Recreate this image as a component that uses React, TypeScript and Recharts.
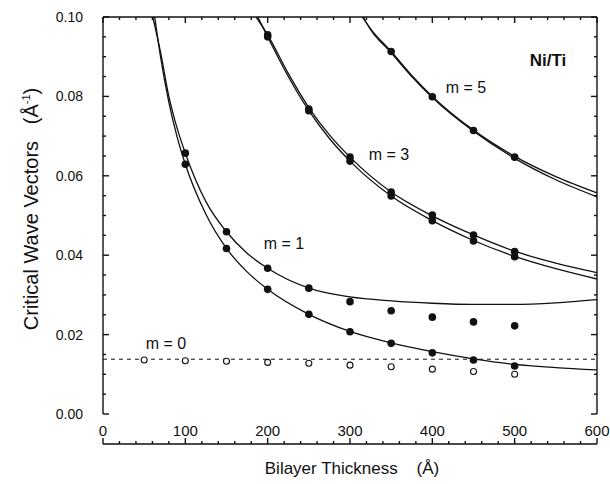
import { ComposedChart, Line, Scatter, XAxis, YAxis, ReferenceLine } from 'recharts';

// bilayer thickness (Å) vs critical wave vector (Å^-1)
const m1UpperCurve = [
    [60.5, 0.1], [70, 0.091], [80, 0.08], [90, 0.072], [100, 0.0657], [125, 0.0535],
    [150, 0.0459], [175, 0.0405], [200, 0.0367], [250, 0.0317], [300, 0.0295],
    [350, 0.0285], [400, 0.0279], [450, 0.0276], [500, 0.0276], [550, 0.028], [600, 0.0288],
];
const m1LowerCurve = [
    [62.8, 0.1], [70, 0.0898], [80, 0.0785], [90, 0.0698], [100, 0.0629], [125, 0.0503],
    [150, 0.0417], [175, 0.0358], [200, 0.0314], [250, 0.0251], [300, 0.0208],
    [350, 0.0179], [400, 0.0157], [450, 0.0139], [500, 0.0125], [550, 0.0117], [600, 0.0111],
];
const m3UpperCurve = [
    [186, 0.1], [200, 0.0955], [225, 0.0858], [250, 0.0772], [275, 0.0703], [300, 0.0647],
    [350, 0.0559], [400, 0.0499], [450, 0.0451], [500, 0.041], [550, 0.038], [600, 0.0356],
];
const m3LowerCurve = [
    [188, 0.1], [200, 0.095], [225, 0.085], [250, 0.0764], [275, 0.0694], [300, 0.0637],
    [350, 0.0549], [400, 0.0487], [450, 0.0437], [500, 0.0397], [550, 0.0366], [600, 0.034],
];
const m5UpperCurve = [
    [315, 0.1], [325, 0.097], [350, 0.0913], [375, 0.0853], [400, 0.08], [450, 0.0715],
    [500, 0.0649], [550, 0.0598], [600, 0.0557],
];
const m5LowerCurve = [
    [316, 0.1], [325, 0.0968], [350, 0.091], [375, 0.085], [400, 0.0797], [450, 0.0712],
    [500, 0.0644], [550, 0.059], [600, 0.0547],
];

const m1Thickness = [100, 150, 200, 250, 300, 350, 400, 450, 500];
const m1UpperMeasured = [0.0657, 0.0459, 0.0367, 0.0317, 0.0283, 0.026, 0.0244, 0.0232, 0.0222];
const m1LowerMeasured = [0.0629, 0.0417, 0.0314, 0.0251, 0.0207, 0.0178, 0.0154, 0.0136, 0.0121];

const m3Thickness = [200, 250, 300, 350, 400, 450, 500];
const m3UpperMeasured = [0.0955, 0.0768, 0.0647, 0.0559, 0.0501, 0.0451, 0.0409];
const m3LowerMeasured = [0.095, 0.0764, 0.0637, 0.0549, 0.0487, 0.0436, 0.0396];

const m5Thickness = [350, 400, 450, 500];
const m5Measured = [0.0913, 0.0799, 0.0714, 0.0647];

const m0Thickness = [50, 100, 150, 200, 250, 300, 350, 400, 450, 500];
const m0Measured = [0.0136, 0.0134, 0.0133, 0.013, 0.0128, 0.0123, 0.0119, 0.0113, 0.0107, 0.01];
const m0Level = 0.0138;

const xTicks = [
    0, 20, 40, 60, 80, 100, 120, 140, 160, 180, 200, 220, 240, 260, 280, 300,
    320, 340, 360, 380, 400, 420, 440, 460, 480, 500, 520, 540, 560, 580, 600,
];
const xLabels = [0, 100, 200, 300, 400, 500, 600];
const yTicks = [
    0, 0.005, 0.01, 0.015, 0.02, 0.025, 0.03, 0.035, 0.04, 0.045, 0.05,
    0.055, 0.06, 0.065, 0.07, 0.075, 0.08, 0.085, 0.09, 0.095, 0.1,
];
const yLabels = [0, 0.02, 0.04, 0.06, 0.08, 0.1];

const FONT = '"Liberation Sans", Arial, Helvetica, sans-serif';
const INK = '#111';

// layout: plot box runs from x=103 to x=597, y=17 to y=414
const W = 610;
const H = 484;
const MARGIN = { top: 16, right: 13, bottom: 39, left: 42 };
const Y_LABEL_W = 60;
const PLOT_W = W - MARGIN.left - Y_LABEL_W - 1 - MARGIN.right;

const curve = (pts: number[][]) => pts.map(([x, y]) => ({ x, y }));
const points = (xs: number[], ys: number[]) => xs.map((x, i) => ({ x, y: ys[i] }));

const isMajorX = (v: number) => v % 100 === 0;
const isMajorY = (v: number) => Math.abs(v / 0.02 - Math.round(v / 0.02)) < 1e-6;
const MAJOR = 6;
const MINOR = 3;

// tick marks point into the plot on all four sides
const UpTick = ({ x, y, payload }: any) => (
    <line x1={x} x2={x} y1={y} y2={y - (isMajorX(payload.value) ? MAJOR : MINOR)} stroke={INK} strokeWidth={1.4} />
);
const DownTick = ({ x, y, payload }: any) => (
    <line x1={x} x2={x} y1={y} y2={y + (isMajorX(payload.value) ? MAJOR : MINOR)} stroke={INK} strokeWidth={1.4} />
);
// the tick axis sits outside the label column, so its marks are shifted onto both frame edges
const SideTicks = ({ x, y, payload }: any) => {
    const len = isMajorY(payload.value) ? MAJOR : MINOR;
    const left = x + Y_LABEL_W;
    return (
        <g>
            <line x1={left} x2={left + len} y1={y} y2={y} stroke={INK} strokeWidth={1.4} />
            <line x1={left + PLOT_W} x2={left + PLOT_W - len} y1={y} y2={y} stroke={INK} strokeWidth={1.4} />
        </g>
    );
};

const XLabel = ({ x, y, payload }: any) => (
    <text x={x} y={y + 22} textAnchor="middle" fontSize={15} fontFamily={FONT} fill={INK}>
        {payload.value}
    </text>
);
const YLabel = ({ x, y, payload }: any) => (
    <text x={x - 20} y={y + 5} textAnchor="end" fontSize={14} fontFamily={FONT} fill={INK}>
        {payload.value.toFixed(2)}
    </text>
);

const FilledDot = (p: any) => <circle cx={p.cx} cy={p.cy} r={3.8} fill={INK} />;
const OpenDot = (p: any) => <circle cx={p.cx} cy={p.cy} r={3} fill="#fff" stroke={INK} strokeWidth={1.1} />;

const labelStyle = (left: number, top: number, extra: any = {}) => ({
    position: 'absolute' as const,
    left,
    top,
    transform: 'translate(-50%, -50%)',
    fontFamily: FONT,
    fontSize: 16,
    color: INK,
    whiteSpace: 'nowrap' as const,
    lineHeight: 1,
    ...extra,
});

const frameLine = { stroke: INK, strokeWidth: 1.4 };
const bare = { tickLine: false, tickSize: 0, tickMargin: 0, interval: 0 as const, allowDataOverflow: true };

const lineProps = {
    dataKey: 'y',
    type: 'monotone' as const,
    stroke: INK,
    strokeWidth: 1.3,
    dot: false,
    activeDot: false,
    isAnimationActive: false,
};

export default function App() {
    return (
        <div style={{ position: 'relative', width: W, height: H }}>
            <style>{'body{margin:0;overflow:hidden}'}</style>
            <ComposedChart width={W} height={H} margin={MARGIN}>
                {/* bottom: tick-mark axis sits on the plot edge, labels below it */}
                <XAxis xAxisId="xticks" dataKey="x" type="number" domain={[0, 600]} ticks={xTicks} tick={<UpTick />} axisLine={frameLine} height={1} {...bare} />
                <XAxis dataKey="x" type="number" domain={[0, 600]} ticks={xLabels} tick={<XLabel />} axisLine={false} height={30} {...bare} />
                <XAxis xAxisId="top" dataKey="x" orientation="top" type="number" domain={[0, 600]} ticks={xTicks} tick={<DownTick />} axisLine={frameLine} height={1} {...bare} />
                {/* left: label column next to the plot, tick-mark axis outside it */}
                <YAxis dataKey="y" type="number" domain={[0, 0.1]} ticks={yLabels} tick={<YLabel />} axisLine={false} width={Y_LABEL_W} {...bare} />
                <YAxis yAxisId="yticks" dataKey="y" type="number" domain={[0, 0.1]} ticks={yTicks} tick={<SideTicks />} axisLine={false} width={1} {...bare} />

                {/* left and right edges of the frame */}
                <ReferenceLine x={0} stroke={INK} strokeWidth={1.4} />
                <ReferenceLine x={600} stroke={INK} strokeWidth={1.4} />
                <ReferenceLine y={m0Level} stroke={INK} strokeWidth={1} strokeDasharray="4 4" />

                {/* every axis pair shares the same domain, so each curve lands in the same place */}
                <Line xAxisId="xticks" yAxisId="yticks" data={curve(m1UpperCurve)} {...lineProps} />
                <Line data={curve(m1LowerCurve)} {...lineProps} />
                <Line data={curve(m3UpperCurve)} {...lineProps} />
                <Line data={curve(m3LowerCurve)} {...lineProps} />
                <Line data={curve(m5UpperCurve)} {...lineProps} />
                <Line xAxisId="top" yAxisId="yticks" data={curve(m5LowerCurve)} {...lineProps} />

                <Scatter data={points(m0Thickness, m0Measured)} shape={OpenDot} isAnimationActive={false} />
                <Scatter data={points(m1Thickness, m1UpperMeasured)} shape={FilledDot} isAnimationActive={false} />
                <Scatter data={points(m1Thickness, m1LowerMeasured)} shape={FilledDot} isAnimationActive={false} />
                <Scatter data={points(m3Thickness, m3UpperMeasured)} shape={FilledDot} isAnimationActive={false} />
                <Scatter data={points(m3Thickness, m3LowerMeasured)} shape={FilledDot} isAnimationActive={false} />
                <Scatter data={points(m5Thickness, m5Measured)} shape={FilledDot} isAnimationActive={false} />
            </ComposedChart>

            <div style={labelStyle(466, 88)}>m = 5</div>
            <div style={labelStyle(389, 155)}>m = 3</div>
            <div style={labelStyle(284, 244)}>m = 1</div>
            <div style={labelStyle(166, 344)}>m = 0</div>
            <div style={labelStyle(548, 60, { fontWeight: 700, fontSize: 17 })}>Ni/Ti</div>

            <div style={labelStyle(352, 468, { fontSize: 17 })}>
                Bilayer Thickness&nbsp;&nbsp;&nbsp;&nbsp;(Å)
            </div>
            <div style={labelStyle(31, 209, { fontSize: 20, transform: 'translate(-50%, -50%) rotate(-90deg)' })}>
                Critical Wave Vectors&nbsp;&nbsp;&nbsp;(Å<sup style={{ fontSize: 11, verticalAlign: '0.7em' }}>-1</sup>)
            </div>
        </div>
    );
}
